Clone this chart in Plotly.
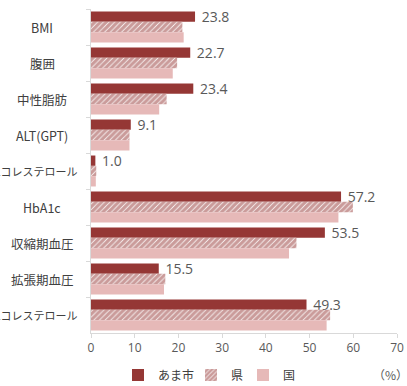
import plotly.graph_objects as go

# Indicator names (top to bottom)
categories = ["BMI", "腹囲", "中性脂肪", "ALT(GPT)", "HDLコレステロール",
              "HbA1c", "収縮期血圧", "拡張期血圧", "LDLコレステロール"]

# Share of people above the criterion (%)
city = [23.8, 22.7, 23.4, 9.1, 1.0, 57.2, 53.5, 15.5, 49.3]
prefecture = [20.9, 19.7, 17.3, 8.8, 1.2, 59.9, 47.0, 17.0, 54.7]
national = [21.2, 18.7, 15.6, 8.8, 1.1, 56.6, 45.3, 16.7, 53.9]

series_names = ["あま市", "県", "国"]
x_ticks = [0, 10, 20, 30, 40, 50, 60, 70]

DARK_RED = "#953735"
PINK = "#E6B9B8"
JP_FONT = "Noto Sans CJK JP"
NUM_FONT = "Open Sans"

fig = go.Figure()

fig.add_trace(go.Bar(
    y=categories, x=city, orientation="h", name=series_names[0],
    marker=dict(color=DARK_RED, line=dict(width=0)),
    text=["\u00a0" + f"{v:.1f}" for v in city], textposition="outside",
    constraintext="none",
    textfont=dict(family=NUM_FONT, size=14, color="#595959"),
    cliponaxis=False, legend="legend",
))
fig.add_trace(go.Bar(
    y=categories, x=prefecture, orientation="h", name=series_names[1],
    marker=dict(color="white", line=dict(width=0),
                pattern=dict(shape="/", fgcolor=DARK_RED, bgcolor="white",
                             size=4, solidity=0.8)),
    legend="legend2",
))
fig.add_trace(go.Bar(
    y=categories, x=national, orientation="h", name=series_names[2],
    marker=dict(color=PINK, line=dict(width=0)),
    legend="legend3",
))

# plot area spans x 91..397 px and y 9..333 px
def px_x(px):
    return (px - 91) / 306

legend_y = (333 - 375) / 324
legend_style = dict(orientation="h", y=legend_y, yanchor="middle", xanchor="left",
                    font=dict(family=JP_FONT, size=12, color="#404040"),
                    itemwidth=30, bgcolor="rgba(0,0,0,0)")

# category labels: short ones centred in the label column, long ones right-aligned
label_notes = []
for name in categories:
    long_label = "コレステロール" in name
    label_notes.append(dict(
        text=name, xref="paper", yref="y", y=name,
        x=px_x(80) if long_label else px_x(42),
        xanchor="right" if long_label else "center", yanchor="middle",
        showarrow=False,
        font=dict(family=JP_FONT, size=11 if long_label else 12.5, color="#404040"),
    ))

fig.update_layout(
    width=407, height=386,
    margin=dict(l=91, r=10, t=9, b=53, autoexpand=False),
    paper_bgcolor="white", plot_bgcolor="white",
    barmode="group", bargap=0.14, bargroupgap=0,
    font=dict(family=JP_FONT, color="#404040"),
    showlegend=True,
    legend=dict(legend_style, x=px_x(118)),
    legend2=dict(legend_style, x=px_x(191)),
    legend3=dict(legend_style, x=px_x(243)),
    annotations=label_notes + [dict(
        text="（%）", xref="paper", yref="paper", x=px_x(410),
        y=legend_y, xanchor="right", yanchor="middle", showarrow=False,
        font=dict(family=JP_FONT, size=12, color="#595959"))],
)

fig.update_xaxes(
    range=[0, 70], tickvals=x_ticks, showgrid=False, zeroline=False,
    showline=True, linecolor="#d9d9d9", linewidth=1,
    ticks="outside", ticklen=4, tickcolor="#d9d9d9",
    tickfont=dict(family=NUM_FONT, size=12, color="#595959"),
    automargin=False,
)
fig.update_yaxes(
    autorange="reversed", showgrid=False, zeroline=False,
    showline=True, linecolor="#d9d9d9", linewidth=1,
    ticks="outside", ticklen=4, tickcolor="#d9d9d9", tickson="boundaries",
    showticklabels=False, automargin=False,
)

fig.write_html("out.html")
